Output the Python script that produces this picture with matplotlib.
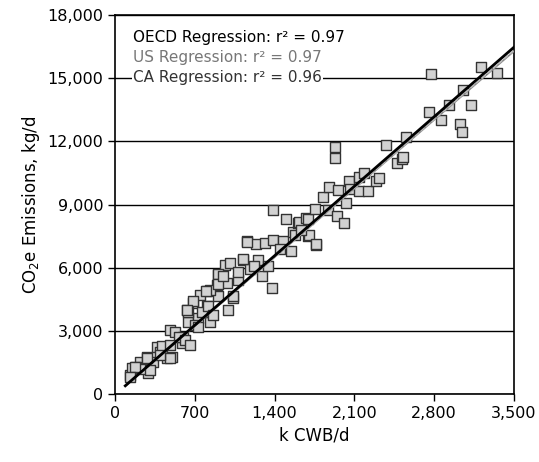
import numpy as np
import matplotlib.pyplot as plt

# k CWB/d vs CO2e emissions, kg/d
cwb = [131, 146, 219, 277, 292, 336, 365, 394, 453, 496, 482, 526, 584, 598,
       633, 686, 642, 730, 803, 905, 891, 832, 964, 642, 993, 1036, 905, 745,
       803, 832, 920, 978, 1007, 1124, 1154, 1183, 1241, 1255, 1285, 1314,
       1343, 1381, 1387, 1387, 1475, 1498, 1548, 1562, 1577, 1606, 1612, 1679,
       1694, 1694, 1699, 1752, 1761, 1761, 1825, 1869, 1875, 1927, 1933, 1947,
       1956, 2009, 2030, 2052, 2059, 2137, 2140, 2181, 2219, 2286, 2315, 2380,
       2473, 2520, 2523, 2555, 2751, 2774, 2862, 2926, 3022, 3040, 3057, 3125,
       3212, 3355, 180, 250, 410, 560, 700, 760, 1080, 1220, 1450, 1630,
       1154, 1124, 905, 1080, 905, 797, 686, 628, 817, 613, 482, 277, 175,
       131, 307, 482, 394, 657, 730, 861, 1036, 949]
co2e = [904, 1223, 1539, 1776, 985, 1539, 2252, 2013, 1695, 1776, 3046, 2966,
        2410, 2727, 3998, 4316, 3442, 3601, 4871, 5664, 5188, 3442, 6140, 3918,
        3998, 4554, 4665, 4712, 4158, 4950, 5664, 5268, 6220, 6378, 7252, 5934,
        7140, 6378, 5585, 7173, 6061, 5030, 7330, 8727, 7252, 8330, 6776, 7680,
        7568, 8126, 8154, 8364, 8315, 7521, 7568, 8792, 7092, 7140, 9362, 8758,
        9839, 11186, 11743, 8440, 9696, 8126, 9077, 10139, 9758, 10296, 9663,
        10505, 9663, 10105, 10265, 11819, 10948, 11138, 11234, 12219, 13409,
        15184, 12995, 13723, 12804, 12457, 14437, 13723, 15551, 15265, 1300,
        1200, 2300, 2700, 3300, 3900, 5400, 6100, 6900, 7800,
        7202, 6412, 5712, 5774, 5236, 4871, 4395, 3998, 4158, 2570, 2332, 1695,
        1271, 823, 1142, 1695, 1856, 2332, 3204, 3760, 4633, 5585]

# regression lines: slope, intercept
oecd_fit = (4.716, -35)
us_fit = (4.66, -30)
ca_fit = (4.68, -60)
fit_x = [90, 3500]

labels = ['OECD Regression: r\u00b2 = 0.97',
          'US Regression: r\u00b2 = 0.97',
          'CA Regression: r\u00b2 = 0.96']

fig = plt.figure(figsize=(5.39, 4.62), dpi=100)
ax = fig.add_axes([0.2134, 0.1472, 0.7402, 0.8203])

ax.scatter(cwb, co2e, marker='s', s=60, facecolor='#d2d2d2',
           edgecolor='#333333', linewidth=1.0, zorder=3)

xs = np.array(fit_x)
ax.plot(xs, us_fit[0] * xs + us_fit[1], color='#888888', lw=1.2, zorder=4)
ax.plot(xs, ca_fit[0] * xs + ca_fit[1], color='#bbbbbb', lw=1.0, ls='--', zorder=4)
ax.plot(xs, oecd_fit[0] * xs + oecd_fit[1], color='black', lw=2.0, zorder=5)

ax.set_xlim(0, 3500)
ax.set_ylim(0, 18000)
ax.set_xticks(range(0, 3501, 700))
ax.set_yticks(range(0, 18001, 3000))
ax.xaxis.set_major_formatter(plt.FuncFormatter(lambda v, p: f'{int(v):,}'))
ax.yaxis.set_major_formatter(plt.FuncFormatter(lambda v, p: f'{int(v):,}'))
ax.yaxis.grid(True, color='black', lw=1.0)
ax.set_axisbelow(True)
ax.tick_params(direction='out', length=5, width=1, labelsize=11.5, colors='black')
for sp in ax.spines.values():
    sp.set_linewidth(1.2)

ax.set_xlabel('k CWB/d', fontsize=12)
ax.set_ylabel('CO$_2$e Emissions, kg/d', fontsize=12)

colors = ['black', '#777777', '#333333']
for i, (lab, c) in enumerate(zip(labels, colors)):
    ax.text(0.045, 0.94 - i * 0.052, lab, transform=ax.transAxes, fontsize=11,
            color=c, va='center', ha='left', zorder=6,
            bbox=dict(facecolor='white', edgecolor='none', pad=0.5))

fig.savefig('out.png', dpi=100)
